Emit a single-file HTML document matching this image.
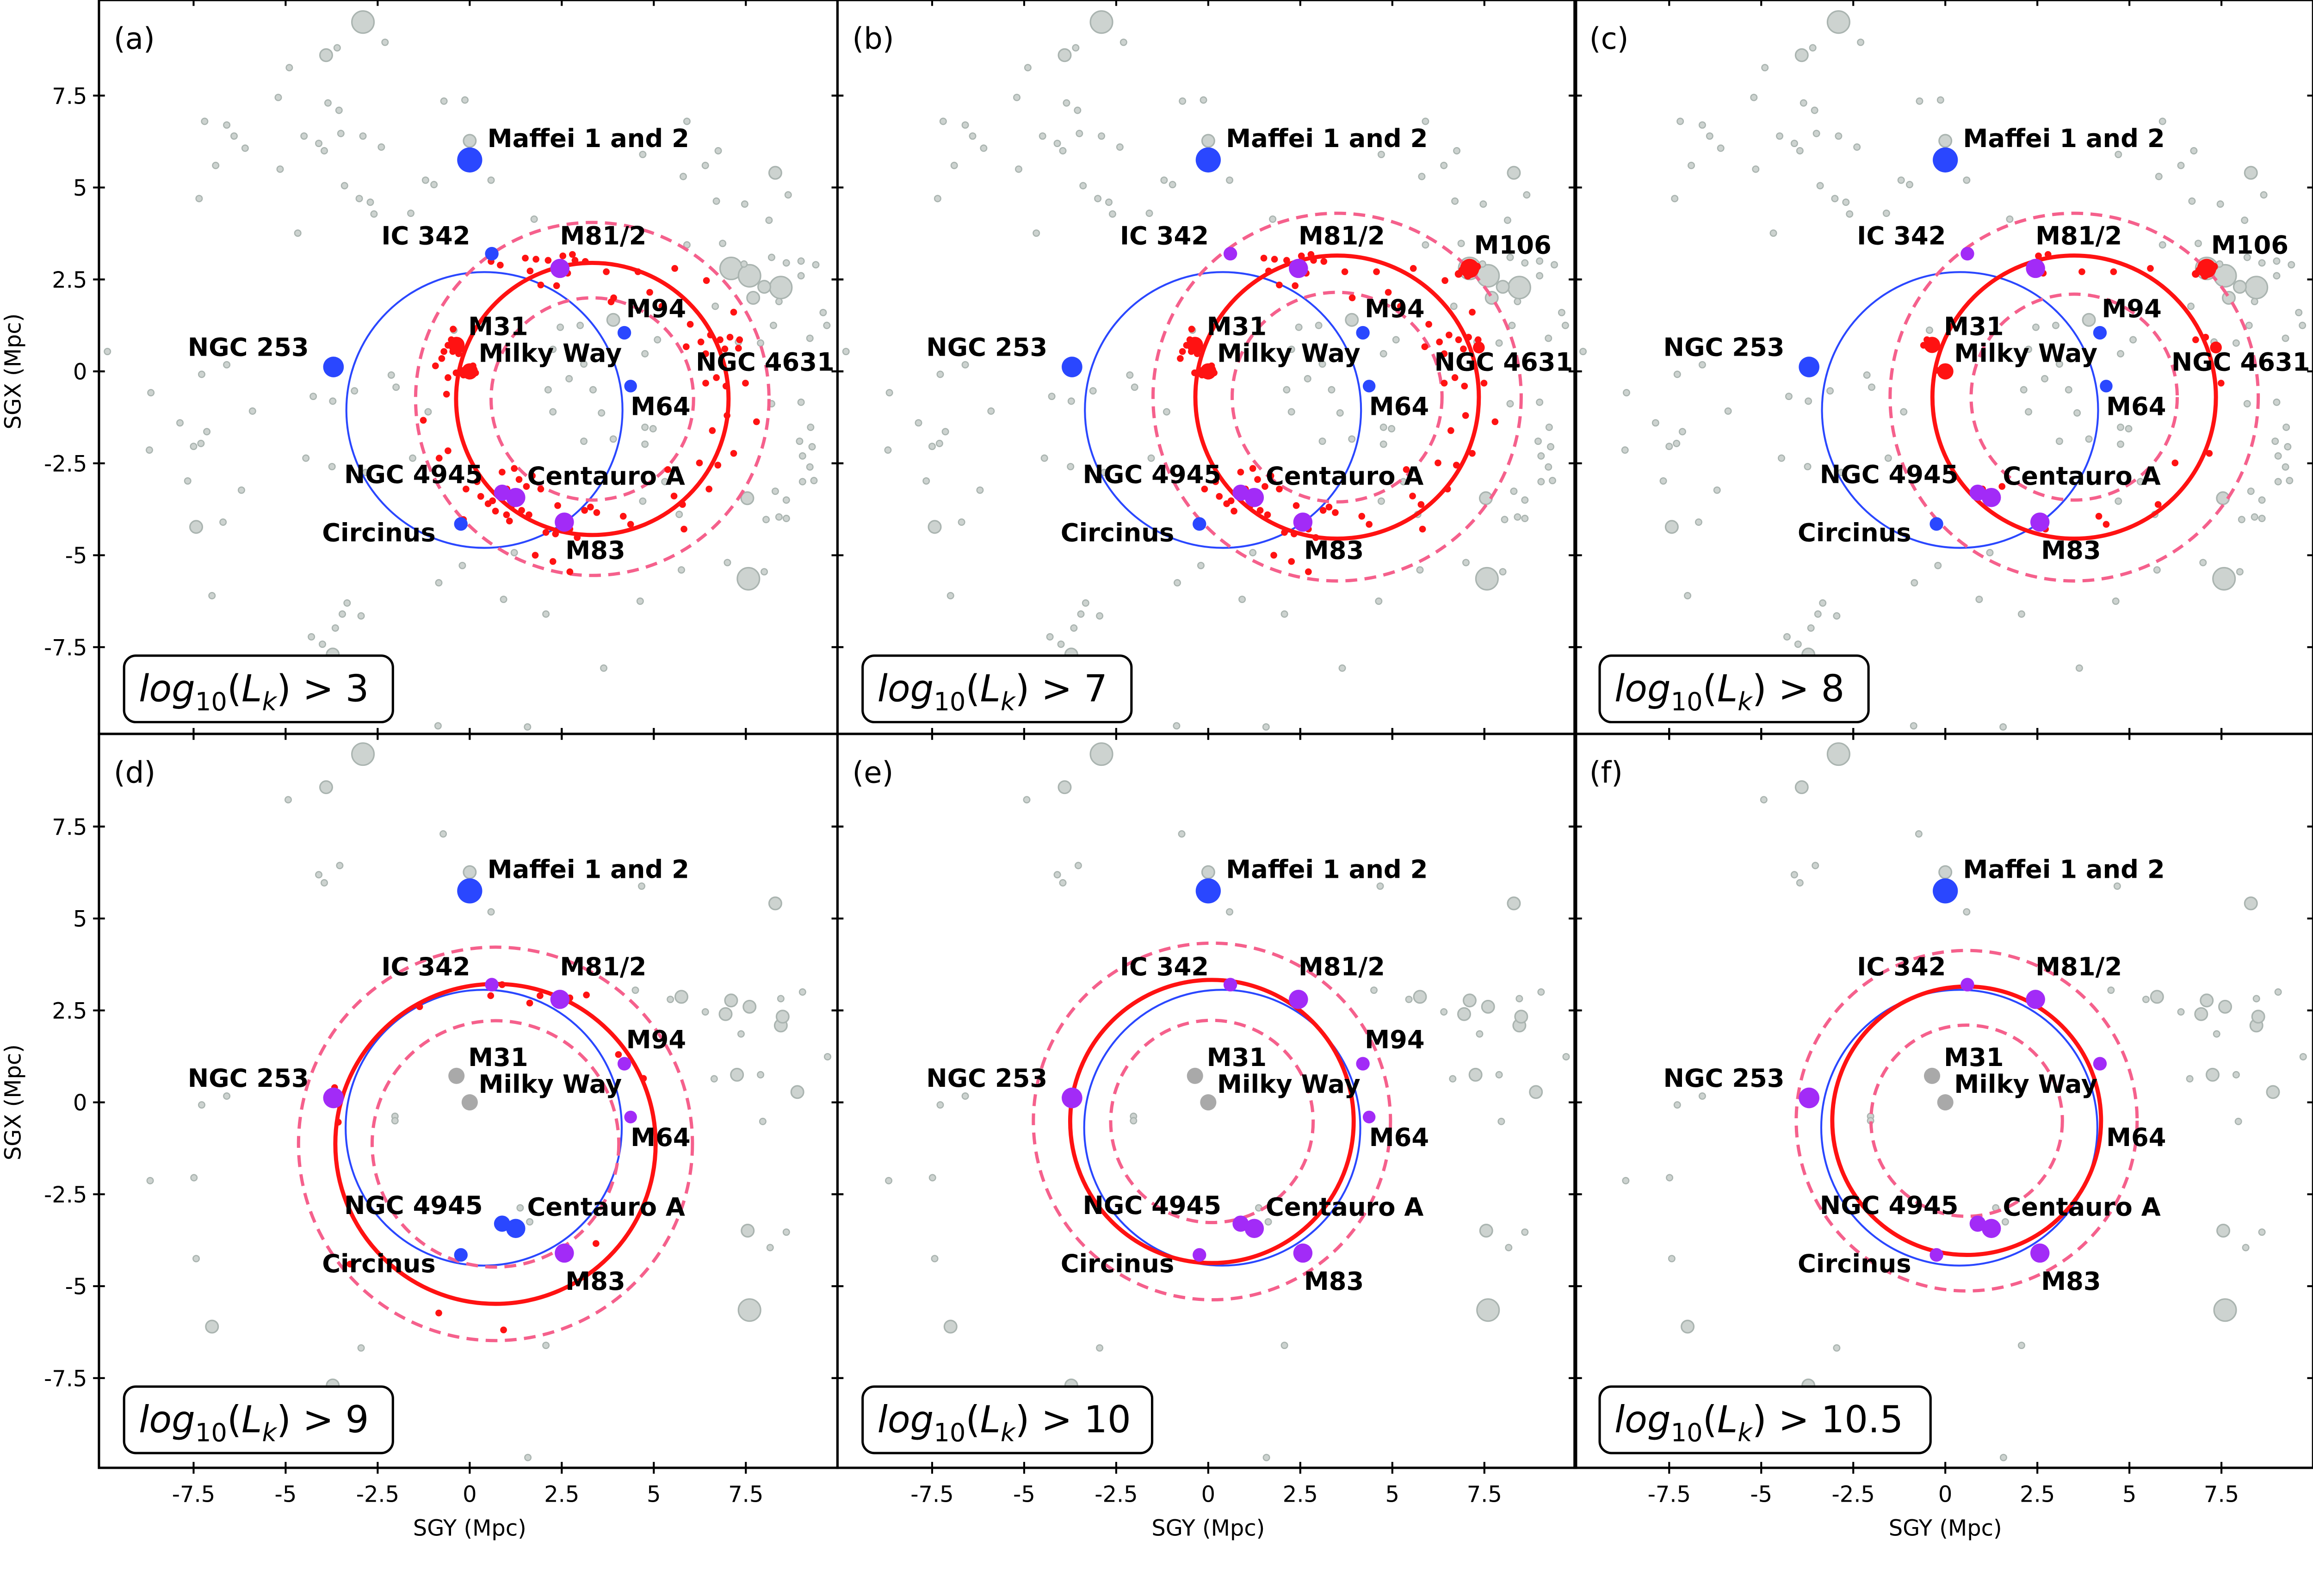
<!DOCTYPE html>
<html><head><meta charset="utf-8"><style>
html,body{margin:0;padding:0;background:#fff;width:5177px;height:3451px;overflow:hidden}
svg{display:block;width:5177px;height:3451px}
text{font-family:"DejaVu Sans","Liberation Sans",sans-serif}
</style></head><body>
<svg id="chart" xmlns="http://www.w3.org/2000/svg" width="5177" height="3451"><g id="root" transform="scale(3.193)"></g></svg>
<script>
// ---------- data (SGY, SGX in Mpc) ----------
const thresholds = ["3","7","8","9","10","10.5"];
const panelLetters = ["(a)","(b)","(c)","(d)","(e)","(f)"];
const tickValues = [-7.5,-5,-2.5,0,2.5,5,7.5];
const tickLabels = ["-7.5","-5","-2.5","0","2.5","5","7.5"];

// named galaxies
const galNames = ["Maffei","IC342","M81","M94","M64","NGC253","M31","MW","NGC4945","CenA","Circinus","M83","M106","NGC4631"];
const galY = [0,0.6,2.45,4.2,4.37,-3.7,-0.36,0,0.88,1.25,-0.24,2.57,7.1,7.35];
const galX = [5.75,3.2,2.8,1.05,-0.4,0.12,0.72,0,-3.3,-3.43,-4.15,-4.1,2.8,0.65];
const galR = [8.5,4.6,6.5,4.6,4.3,7,5.5,5.5,5.5,6.5,4.6,6.5,6.5,4];
// colour code per panel: B blue, P purple, R red, G gray, - hidden
const galColors = [
 "BBPBBBRRPPBP--",
 "BPPBBBRRPPBPRR",
 "BPPBBBRRPPBPRR",
 "BPPPPPGGBBBP--",
 "BPPPPPGGPPPP--",
 "BPPP-PGGPPPP--"
];
// labels
const labText = ["Maffei 1 and 2","IC 342","M81/2","M94","M64","NGC 253","M31","Milky Way","NGC 4945","Centauro A","Circinus","M83","M106","NGC 4631"];
const labY = [0.48,-2.4,2.45,4.25,4.37,-7.66,-0.04,0.24,-3.41,1.56,-4.01,2.6,7.22,6.14];
const labX = [6.1,3.45,3.45,1.47,-1.19,0.42,0.99,0.26,-3.04,-3.08,-4.62,-5.1,3.2,0.02];
const labShow = [
 "11111111111101",
 "11111111111111",
 "11111111111111",
 "11111111111100",
 "11111111111100",
 "11101111111100"
];

// circles per panel: blue, red solid, dashed outer, dashed inner
const blueCY=[0.4,0.4,0.4,0.38,0.38,0.38], blueCX=[-1.05,-1.05,-1.05,-0.69,-0.69,-0.69], blueR=[3.75,3.75,3.75,3.75,3.75,3.75];
const redCY=[3.33,3.5,3.5,0.7,0.1,0.58], redCX=[-0.75,-0.7,-0.7,-1.13,-0.52,-0.5], redR=[3.7,3.85,3.85,4.35,3.85,3.65];
const outR=[4.8,5.0,5.0,5.35,4.85,4.63];
const inR=[2.75,2.85,2.8,3.35,2.75,2.6];

// red shell members, top row; tier: 0 = panel a only, 1 = a,b, 2 = a,b,c
const redY=[1.51,1.80,2.13,2.53,2.79,2.86,2.66,1.93,2.36,1.64,3.14,3.71,4.57,0.58,0.83,5.57,6.43,3.91,3.84,4.89,5.22,5.99,5.88,6.28,6.54,6.80,7.07,7.33,7.30,6.93,6.41,6.70,6.41,6.96,7.49,6.99,6.59,7.17,7.79,7.17,
 -0.45,-0.5,-0.37,-0.24,-0.46,-0.59,-0.70,-0.30,-0.76,-0.93,-0.59,
 -0.24,-0.04,0.16,0.09,-0.17,-0.37,-0.63,-1.26,
 -0.59,-0.83,0.62,0.88,1.21,1.01,1.34,1.54,1.70,1.93,1.41,1.61,1.14,1.08,2.07,2.39,2.72,2.92,2.33,3.12,3.45,3.28,4.17,4.37,5.55,5.78,5.38,6.24,6.74,6.50,5.82,1.78,2.26,2.72,-0.17,
 -0.1,0.3,0.5,0.7,1.0,0.2];
const redX=[3.08,3.05,3.02,3.14,3.18,3.02,2.67,2.35,2.33,2.73,2.99,2.71,2.71,2.99,2.89,2.80,2.47,2.0,1.89,2.15,1.77,1.28,0.67,0.80,0.99,0.86,0.93,0.86,0.63,0.61,0.48,-0.17,-0.32,-0.40,-0.32,-1.20,-1.61,-2.23,-1.37,1.61,
 1.15,0.86,0.73,0.61,0.54,0.71,0.54,0.48,0.35,0.15,-0.17,
 0.03,0.09,-0.04,0.15,-0.10,-0.04,-0.62,-1.33,
 -2.16,-2.36,-3.52,-2.74,-2.64,-3.20,-2.94,-3.13,-2.84,-3.20,-3.78,-3.90,-3.65,-4.07,-4.38,-3.65,-4.29,-4.52,-4.42,-3.78,-3.84,-3.69,-3.94,-4.16,-3.39,-3.62,-2.67,-2.49,-2.55,-3.20,-4.29,-5.0,-5.17,-5.45,-4.03,
 -3.2,-3.4,-3.6,-3.8,-3.9,-3.0];
const redTier=[1,1,1,2,2,1,2,1,1,1,1,2,2,0,0,2,1,1,0,1,1,1,1,1,1,2,2,1,2,1,1,1,1,1,2,1,1,2,1,1,
 1,2,2,1,1,2,1,1,1,0,0,
 2,2,1,1,1,1,0,0,
 0,0,1,1,1,2,1,2,1,1,1,1,1,0,1,1,2,1,1,1,1,1,2,2,1,2,1,2,1,1,1,1,1,1,0,
 1,1,1,1,0,1];
// M106 cluster (panels b, c)
const m106Y=[6.9,7.0,7.1,7.2,7.3,6.8,7.05];
const m106X=[2.75,2.9,2.8,2.7,2.85,2.65,2.6];
// bottom row red members (panel d)
const redDY=[0.88,0.57,1.63,1.91,2.72,3.17,-1.36,4.04,4.72,-3.67,-3.57,3.43,-3.25,-0.84,0.92];
const redDX=[3.2,2.9,2.7,2.9,2.84,2.92,2.6,1.3,0.65,0.4,-0.54,-3.84,-4.4,-5.73,-6.19];

// background galaxies, top row (size class 1 small, 2 medium, 3 large)
const grayY=[-2.9,-2.3,-3.9,-3.6,-4.9,-5.2,-3.85,-3.55,-0.7,-0.13,-7.2,-6.6,-6.4,-6.1,-6.9,-5.15,-4.5,-4.1,-3.95,-3.5,-2.9,-2.4,0,4.7,5.9,6.75,6.4,8.3,8.65,5.8,-1.2,-0.97,0.58,-3.4,-7.35,-3.0,-2.7,-2.6,-4.67,-1.6,1.75,7.47,8.13,6.7,5.9,6.87,7.1,7.6,8.45,8.2,9.0,8.6,8.0,7.7,9.0,9.4,9.6,9.7,9.24,8.25,7.9,7.3,5.1,3.9,3.0,4.76,2.26,3.1,3.58,2.7,2.13,3.35,2.26,4.76,4.98,4.76,3.1,8.2,9.0,9.26,8.96,9.3,9.04,9.24,9.04,9.35,8.3,7.54,8.6,8.4,8.05,8.6,7.0,7.57,8.0,5.75,4.63,2.07,3.64,0.92,-0.84,-0.2,1.21,1.57,-0.86,-3.72,-4.0,-4.3,-3.65,-3.46,-3.33,-2.95,-7.0,-7.43,-6.7,-6.2,-7.66,-7.14,-7.5,-7.3,-8.7,-7.87,-8.66,-9.84,-7.28,-6.6,-5.9,-4.45,-3.74,-3.72,-4.25,-3.13,-2.0,-2.13,-1.13,-1.55,-2.83,-0.43,2.46,4.7,5.69,5.3,3.9,6.67,7.45,8.4];
const grayX=[9.5,8.95,8.6,8.8,8.26,7.45,7.3,7.1,7.35,7.38,6.8,6.7,6.4,6.07,5.6,5.5,6.4,6.2,6.0,6.47,6.4,6.1,6.27,5.9,6.8,6.0,5.6,5.4,4.8,5.3,5.2,5.08,5.2,5.05,4.7,4.7,4.6,4.28,3.76,4.3,4.14,4.55,4.11,4.63,3.44,3.48,2.8,2.6,2.28,3.1,3.0,2.95,2.3,2.0,2.6,2.9,1.6,1.25,0.9,1.25,0.77,0.8,0.86,1.4,1.25,0.48,0.6,0.2,-1.13,-0.2,-0.5,-0.5,-1.1,-1.52,-1.56,-1.98,-1.9,-0.88,-0.84,-1.52,-1.9,-2.05,-2.3,-2.6,-3.0,-2.97,-3.26,-3.45,-3.5,-3.96,-4.03,-4.0,-5.2,-5.64,-5.45,-5.4,-6.25,-6.6,-8.07,-6.2,-5.75,-5.28,-4.93,-9.67,-9.64,-7.7,-7.42,-7.22,-6.98,-6.6,-6.3,-6.65,-6.1,-4.23,-4.1,-3.23,-2.98,-1.64,-2.04,-1.96,-2.14,-1.4,-0.58,0.54,-0.08,0.18,-1.08,-2.36,-2.59,-0.81,-0.68,-0.53,-0.43,-0.1,-1.1,-2.36,-2.75,1.12,1.2,-3.53,-3.89,-3.0,-1.84,1.77,2.92,1.9];
const graySize=[3,1,2,1,1,1,1,1,1,1,1,1,1,1,1,1,1,1,1,1,1,1,2,1,1,1,1,2,1,1,1,1,1,1,1,1,1,1,1,1,1,1,1,1,1,1,3,3,3,1,1,1,2,2,1,1,1,1,1,1,1,1,1,2,1,1,1,1,1,1,1,1,1,1,1,1,1,1,1,1,1,1,1,1,1,1,1,2,1,1,1,1,1,3,1,1,1,1,1,1,1,1,1,1,1,2,1,1,1,1,1,1,1,2,1,1,1,1,1,1,1,1,1,1,1,1,1,1,1,1,1,1,1,1,1,1,1,1,1,1,1,1,1,1,1,1];
// background galaxies, bottom row
const grayBY=[-2.9,-3.9,-4.93,-0.72,-4.1,-3.95,-3.53,0,4.67,0.58,8.3,5.75,5.45,7.1,7.6,6.95,8.45,8.5,8.45,9.04,6.4,7.37,4.5,9.72,7.26,6.64,7.9,8.9,7.96,-7.28,-6.6,-2.03,-2.03,-8.68,-7.49,-7.43,-7.0,1.37,1.63,7.55,8.6,8.16,7.6,2.07,-2.95,-3.72,1.58];
const grayBX=[9.47,8.57,8.23,7.3,6.19,5.97,6.44,6.26,5.88,5.18,5.41,2.87,2.8,2.77,2.6,2.4,2.09,2.33,2.82,3.0,2.46,1.86,3.05,1.24,0.75,0.64,0.75,0.28,-0.52,-0.07,0.17,-0.38,-0.5,-2.13,-2.05,-4.25,-6.1,-2.87,-3.25,-3.49,-3.53,-3.95,-5.65,-6.61,-6.68,-7.7,-9.66];
const grayBSize=[3,2,1,1,1,1,1,2,1,1,2,2,1,2,2,2,2,2,1,1,1,1,1,1,2,1,1,2,1,1,1,1,1,1,1,1,2,1,1,2,1,1,3,1,1,2,1];

// ---------- drawing ----------
const NS="http://www.w3.org/2000/svg";
const svg=document.getElementById('root');
function mk(tag,attrs,parent){const e=document.createElementNS(NS,tag);for(const k in attrs)e.setAttribute(k,attrs[k]);(parent||svg).appendChild(e);return e;}
const PX0=[67,567,1066], PY0=[0,495], PW=500, PH=498;
const FRAME_TOP=[0,497], FRAME_BOT=[497,994];
const XMIN=-10.07, XMAX=9.99, YMAX=10.1, YMIN=-9.9;
const COL={B:"#2a47ff",P:"#a22bf7",R:"#ff1212",G:"#a9a9a9"};
mk('rect',{x:0,y:0,width:1700,height:1100,fill:'#fff'});

for(let p=0;p<6;p++){
  const col=p%3,row=Math.floor(p/3);
  const x0=PX0[col],y0=PY0[row];
  const ft=FRAME_TOP[row], fb=FRAME_BOT[row];
  const sx=v=>x0+(v-XMIN)/(XMAX-XMIN)*PW;
  const sy=v=>y0+(YMAX-v)/(YMAX-YMIN)*PH;
  const ux=PW/(XMAX-XMIN), uy=PH/(YMAX-YMIN);
  const g=mk('g',{});
  
  
  const cp='clip'+p;
  const cl=mk('clipPath',{id:cp},g);mk('rect',{x:x0,y:ft,width:PW,height:fb-ft},cl);
  const body=mk('g',{'clip-path':`url(#${cp})`},g);
  const GY=row?grayBY:grayY, GX=row?grayBX:grayX, GS=row?grayBSize:graySize;
  for(let i=0;i<GY.length;i++){
    const r=[0,2.1,4.2,7.5][GS[i]];
    const c=mk('circle',{cx:sx(GY[i]),cy:sy(GX[i]),r:r,fill:'#cdd3d0',stroke:'#aab4b0','stroke-width':r>3?1:0.8},body);
    
    
  }
  const circ=(cy,cx,r,stroke,w,dash,name)=>{const c=mk('ellipse',{cx:sx(cy),cy:sy(cx),rx:r*ux,ry:r*uy,fill:'none',stroke:stroke,'stroke-width':w},body);if(dash)c.setAttribute('stroke-dasharray',dash);};
  circ(blueCY[p],blueCX[p],blueR[p],'#2a47ff',1.3,null,'blue-circle');
  circ(redCY[p],redCX[p],outR[p],'#f5608c',2.2,'8,5','outer-dashed-circle');
  circ(redCY[p],redCX[p],inR[p],'#f5608c',2.2,'8,5','inner-dashed-circle');
  circ(redCY[p],redCX[p],redR[p],'#ff1212',2.8,null,'red-circle');
  if(row===0){
    const minTier=p;
    for(let i=0;i<redY.length;i++){ if(redTier[i]<minTier)continue;
      const c=mk('circle',{cx:sx(redY[i]),cy:sy(redX[i]),r:2.3,fill:'#ff1212'},body);
      
      }
    if(p>0){for(let i=0;i<m106Y.length;i++){
      const c=mk('circle',{cx:sx(m106Y[i]),cy:sy(m106X[i]),r:2.6,fill:'#ff1212'},body);
      
      }}
  } else if(p===3){
    for(let i=0;i<redDY.length;i++){
      const c=mk('circle',{cx:sx(redDY[i]),cy:sy(redDX[i]),r:2.3,fill:'#ff1212'},body);
      
      }
  }
  for(let i=0;i<galNames.length;i++){
    const cc=galColors[p][i]; if(cc==='-')continue;
    const c=mk('circle',{cx:sx(galY[i]),cy:sy(galX[i]),r:galR[i],fill:COL[cc]},body);
    
    
  }
  for(let i=0;i<labText.length;i++){
    if(labShow[p][i]!=='1')continue;
    const t=mk('text',{x:sx(labY[i]),y:sy(labX[i]),'font-size':17,'font-weight':'bold',fill:'#000'},g);
    t.textContent=labText[i];
    
    
  }
  const fr=mk('rect',{x:x0,y:ft,width:PW,height:fb-ft,fill:'none',stroke:'#000','stroke-width':1.6},g);
  
  
  for(let k=0;k<tickValues.length;k++){
    const tx=sx(tickValues[k]), ty=sy(tickValues[k]);
    mk('line',{x1:tx,y1:ft-4,x2:tx,y2:ft+4,stroke:'#000','stroke-width':1.3},g);
    mk('line',{x1:tx,y1:fb-4,x2:tx,y2:fb+4,stroke:'#000','stroke-width':1.3},g);
    mk('line',{x1:x0-4,y1:ty,x2:x0+4,y2:ty,stroke:'#000','stroke-width':1.3},g);
    mk('line',{x1:x0+PW-4,y1:ty,x2:x0+PW+4,y2:ty,stroke:'#000','stroke-width':1.3},g);
    if(row===1){
      const t=mk('text',{x:tx,y:1017,'font-size':15,'text-anchor':'middle',fill:'#000'},g);
      t.textContent=tickLabels[k];
      
      
    }
    if(col===0){
      const t=mk('text',{x:59,y:ty+5.5,'font-size':15,'text-anchor':'end',fill:'#000'},g);
      t.textContent=tickLabels[k];
      
      
    }
  }
  if(row===1){
    const t=mk('text',{x:sx(0),y:1040,'font-size':15,'text-anchor':'middle',fill:'#000'},g);
    t.textContent='SGY (Mpc)';
    
    
  }
  if(col===0){
    const yc=sy(0);
    const t=mk('text',{x:14,y:yc,'font-size':15,'text-anchor':'middle',fill:'#000',transform:`rotate(-90 14 ${yc})`},g);
    t.textContent='SGX (Mpc)';
    
    
  }
  const pl=mk('text',{x:x0+10,y:ft+33,'font-size':20,fill:'#000'},g);
  pl.textContent=panelLetters[p];
  
  
  const bw=thresholds[p].length===1?182:(thresholds[p].length===2?196:224);
  const bx=x0+17, by=y0+444;
  const br=mk('rect',{x:bx,y:by,width:bw,height:45,rx:8,ry:8,fill:'#fff',stroke:'#000','stroke-width':1.6},g);
  
  
  const tt=mk('text',{x:bx+10,y:by+31,'font-size':25,fill:'#000'},g);
  
  
  tt.innerHTML=`<tspan font-style="italic">log</tspan><tspan font-size="17" dy="6">10</tspan><tspan dy="-6">(</tspan><tspan font-style="italic">L</tspan><tspan font-style="italic" font-size="17" dy="6">k</tspan><tspan dy="-6">) &gt; ${thresholds[p]}</tspan>`;
}
</script>
</body></html>
